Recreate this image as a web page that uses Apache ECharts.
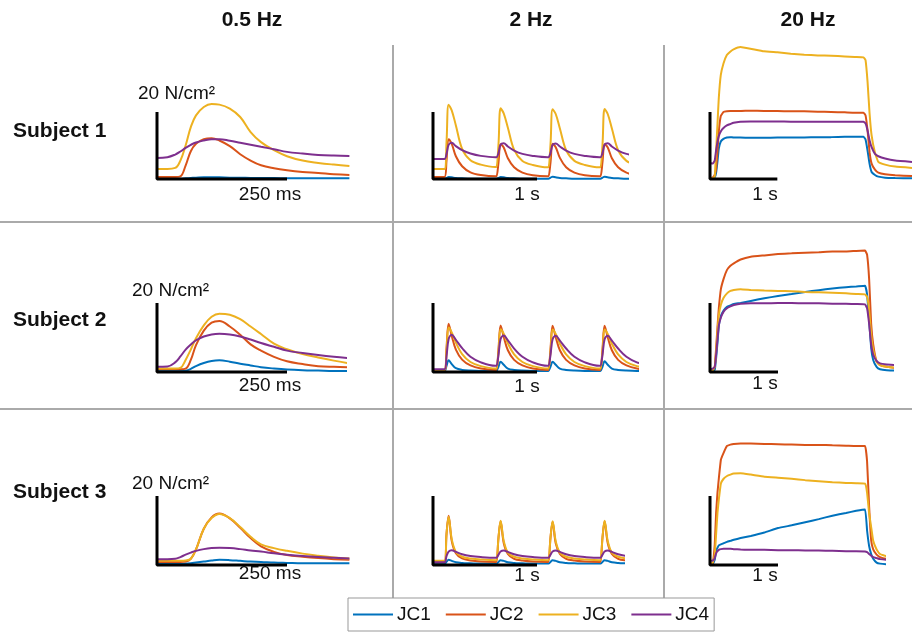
<!DOCTYPE html>
<html>
<head>
<meta charset="utf-8">
<script src="https://cdn.jsdelivr.net/npm/echarts@6/dist/echarts.min.js"></script>
<style>
  html, body { margin: 0; padding: 0; background: #fff; }
  #chart { width: 912px; height: 633px; }
</style>
</head>
<body>
<div id="chart"></div>
<script>
// series names / colours (MATLAB default order)
var NAMES = ["JC1", "JC2", "JC3", "JC4"];
var COLORS = ["#0072BD", "#D95319", "#EDB120", "#7E2F8E"];
var COL_TITLES = ["0.5 Hz", "2 Hz", "20 Hz"];
var ROW_TITLES = ["Subject 1", "Subject 2", "Subject 3"];
var BAR_LABELS = ["250 ms", "1 s", "1 s"];
var BAR_X = [250, 1, 1];   // horizontal scale bar length (ms, s, s)
var BAR_Y = 20;            // vertical scale bar, N/cm2

// time bases
var t05 = [0, 20, 35, 45, 55, 65, 75, 90, 105, 120, 140, 160, 180, 200, 225, 250, 280, 310, 340, 370]; // ms
var t2 = [0,
  0.11, 0.13, 0.15, 0.18, 0.22, 0.28, 0.36, 0.46, 0.60,
  0.61, 0.63, 0.65, 0.68, 0.72, 0.78, 0.86, 0.96, 1.10,
  1.11, 1.13, 1.15, 1.18, 1.22, 1.28, 1.36, 1.46, 1.60,
  1.61, 1.63, 1.65, 1.68, 1.72, 1.78, 1.86, 1.96, 2.10]; // s
var t20 = [0, 0.04, 0.07, 0.09, 0.11, 0.13, 0.16, 0.2, 0.25, 0.3,
  0.35, 0.45, 0.6, 0.8, 1.0, 1.2, 1.4, 1.6, 1.8, 2.0,
  2.15, 2.28, 2.31, 2.34, 2.37, 2.4, 2.45, 2.5, 2.6, 2.75, 3.0]; // s

// ---- Subject 1 ----
var s1_05_jc1 = [0.1, 0.1, 0.1, 0.1, 0.2, 0.3, 0.4, 0.5, 0.5, 0.5, 0.4, 0.4, 0.3, 0.3, 0.3, 0.2, 0.2, 0.2, 0.2, 0.2];
var s1_05_jc2 = [0.6, 0.6, 0.6, 0.8, 4.0, 8.3, 10.5, 11.9, 12.2, 11.5, 9.8, 7.4, 5.5, 4.1, 3.2, 2.6, 2.1, 1.8, 1.4, 1.2];
var s1_05_jc3 = [3.0, 3.0, 3.3, 5.5, 10.0, 15.5, 19.0, 21.5, 22.4, 22.2, 21.0, 18.5, 14.0, 11.0, 8.6, 6.8, 5.5, 4.8, 4.3, 3.9];
var s1_05_jc4 = [6.3, 6.5, 7.3, 8.2, 9.3, 10.2, 10.9, 11.5, 11.9, 11.9, 11.4, 10.8, 10.2, 9.6, 8.9, 8.1, 7.6, 7.2, 7.0, 6.9];

var s1_2_jc1 = [0.1,
  0.1, 0.3, 0.6, 0.5, 0.3, 0.2, 0.1, 0.1, 0.1,
  0.1, 0.3, 0.6, 0.5, 0.3, 0.2, 0.1, 0.1, 0.1,
  0.1, 0.4, 0.7, 0.5, 0.3, 0.2, 0.1, 0.1, 0.1,
  0.1, 0.4, 0.7, 0.5, 0.3, 0.2, 0.1, 0.1, 0.1];
var s1_2_jc2 = [0.6,
  0.6, 5.5, 11.9, 10.5, 6.8, 3.8, 2.0, 1.2, 0.8,
  0.8, 5.0, 10.4, 9.4, 6.2, 3.5, 1.9, 1.1, 0.8,
  0.8, 5.0, 10.5, 9.5, 6.3, 3.5, 1.9, 1.1, 0.8,
  0.8, 5.1, 10.4, 9.4, 6.2, 3.5, 1.9, 1.1, 0.8];
var s1_2_jc3 = [3.0,
  3.0, 11.0, 22.2, 20.5, 16.0, 9.0, 5.6, 4.3, 3.6,
  3.6, 10.5, 21.1, 19.6, 15.3, 8.7, 5.4, 4.2, 3.5,
  3.5, 10.4, 20.8, 19.4, 15.1, 8.6, 5.4, 4.2, 3.5,
  3.5, 10.4, 20.9, 19.4, 15.1, 8.6, 5.4, 4.2, 3.5];
var s1_2_jc4 = [6.0,
  6.0, 7.5, 10.2, 10.8, 9.8, 8.6, 7.6, 6.9, 6.5,
  6.5, 7.8, 10.3, 10.7, 9.7, 8.5, 7.5, 6.9, 6.5,
  6.5, 7.8, 10.2, 10.6, 9.7, 8.5, 7.5, 6.9, 6.5,
  6.5, 7.8, 10.3, 10.7, 9.7, 8.5, 7.5, 6.9, 6.5];

var s1_20_jc1 = [0.2, 0.2, 0.5, 1.8, 5, 9, 11.2, 12, 12.4, 12.5, 12.4, 12.4, 12.3, 12.3, 12.4, 12.4, 12.4, 12.5, 12.5, 12.6, 12.6, 12.6, 11.8, 8.5, 4.5, 2.1, 1.2, 0.7, 0.4, 0.3, 0.2];
var s1_20_jc2 = [0.3, 0.4, 1.2, 3.0, 8, 14, 18.8, 20, 20.2, 20.3, 20.3, 20.3, 20.4, 20.3, 20.3, 20.2, 20.2, 20.1, 20.0, 19.9, 19.8, 19.8, 19.0, 14.5, 8.0, 4.6, 2.8, 1.9, 1.4, 1.1, 0.9];
var s1_20_jc3 = [0.3, 0.3, 0.7, 8, 16, 24, 31, 34.5, 37, 38, 38.7, 39.4, 38.9, 38.1, 37.8, 37.4, 37.1, 36.9, 36.8, 36.6, 36.4, 36.3, 35.5, 29, 19.5, 13, 7.8, 5.1, 4.3, 3.7, 3.3];
var s1_20_jc4 = [4.8, 4.6, 5.5, 8.5, 11, 12.8, 14.2, 15.2, 16, 16.4, 16.8, 17.1, 17.2, 17.2, 17.2, 17.1, 17.1, 17.1, 17.1, 17.1, 17.1, 17.1, 16.6, 14.5, 11.5, 9.5, 7.5, 6.8, 6.1, 5.5, 5.1];

// ---- Subject 2 ----
var s2_05_jc1 = [0.3, 0.3, 0.3, 0.3, 0.4, 0.9, 1.7, 2.6, 3.2, 3.4, 3.0, 2.4, 1.9, 1.4, 1.0, 0.7, 0.5, 0.4, 0.3, 0.3];
var s2_05_jc2 = [0.8, 0.8, 0.8, 0.8, 1.0, 3.5, 7.8, 12.0, 14.3, 14.8, 13.2, 10.8, 8.0, 6.2, 4.4, 3.1, 2.3, 1.7, 1.5, 1.4];
var s2_05_jc3 = [1.0, 1.0, 1.0, 1.2, 3.5, 6.5, 9.8, 13.5, 16.0, 16.9, 16.6, 15.3, 13.2, 11.0, 8.2, 6.6, 5.2, 4.2, 3.3, 2.5];
var s2_05_jc4 = [1.5, 1.6, 2.8, 4.5, 6.5, 8.0, 9.2, 10.3, 10.9, 11.1, 10.9, 10.3, 9.4, 8.4, 7.3, 6.2, 5.5, 4.9, 4.4, 4.0];

var s2_2_jc1 = [0.3,
  0.3, 1.8, 3.4, 2.3, 1.1, 0.6, 0.4, 0.3, 0.3,
  0.3, 1.6, 3.0, 2.1, 1.0, 0.6, 0.4, 0.3, 0.3,
  0.3, 1.6, 3.0, 2.1, 1.0, 0.6, 0.4, 0.3, 0.3,
  0.3, 1.6, 3.1, 2.1, 1.0, 0.6, 0.4, 0.3, 0.3];
var s2_2_jc2 = [0.5,
  0.5, 7.0, 14.0, 10.5, 6.5, 3.6, 1.9, 1.0, 0.6,
  0.6, 6.8, 13.5, 10.2, 6.3, 3.5, 1.9, 1.0, 0.6,
  0.6, 6.8, 13.4, 10.1, 6.3, 3.5, 1.9, 1.0, 0.6,
  0.6, 6.8, 13.4, 10.1, 6.3, 3.5, 1.9, 1.0, 0.6];
var s2_2_jc3 = [0.6,
  0.6, 6.0, 12.9, 11.5, 8.5, 5.2, 2.9, 1.7, 1.0,
  1.0, 6.0, 12.4, 11.1, 8.3, 5.1, 2.9, 1.7, 1.0,
  1.0, 6.0, 12.3, 11.0, 8.2, 5.1, 2.9, 1.7, 1.0,
  1.0, 6.0, 12.3, 11.0, 8.2, 5.1, 2.9, 1.7, 1.0];
var s2_2_jc4 = [0.8,
  0.8, 4.5, 9.5, 10.8, 9.3, 6.9, 4.4, 2.8, 1.8,
  1.8, 5.0, 9.6, 10.6, 9.2, 6.8, 4.4, 2.8, 1.8,
  1.8, 5.0, 9.5, 10.5, 9.1, 6.8, 4.4, 2.8, 1.8,
  1.8, 5.0, 9.5, 10.5, 9.1, 6.8, 4.4, 2.8, 1.8];

var s2_20_jc1 = [0.3, 0.4, 0.6, 4, 8.5, 13.5, 16.2, 17.8, 18.9, 19.3, 19.7, 20.0, 20.6, 21.4, 22.0, 22.6, 23.2, 23.7, 24.2, 24.6, 24.8, 25, 22.5, 15, 7, 3.5, 1.5, 0.8, 0.5, 0.4, 0.4];
var s2_20_jc2 = [0.3, 0.5, 1.5, 7, 13, 18.5, 24, 27, 29.6, 30.8, 31.5, 32.6, 33.4, 33.8, 34.2, 34.4, 34.6, 34.7, 34.9, 34.9, 35.1, 35.2, 34, 27, 14, 8, 3, 2.0, 1.5, 1.2, 1.1];
var s2_20_jc3 = [0.3, 0.5, 1.5, 6, 11.5, 16.5, 19.5, 21.5, 22.8, 23.5, 23.8, 24, 23.8, 23.6, 23.5, 23.4, 23.2, 23.1, 23, 22.8, 22.6, 22.5, 21.8, 18, 11, 6.5, 3, 2.0, 1.5, 1.2, 1.1];
var s2_20_jc4 = [0.8, 1.0, 1.5, 5, 9.5, 13.5, 15.8, 17.5, 18.5, 19, 19.4, 19.8, 19.9, 19.9, 20, 20, 19.9, 19.9, 19.8, 19.8, 19.7, 19.6, 18.5, 14, 8, 5, 3.2, 2.5, 2.2, 2.0, 2.0];

// ---- Subject 3 ----
var s3_05_jc1 = [0.3, 0.3, 0.3, 0.3, 0.4, 0.5, 0.7, 1.0, 1.3, 1.5, 1.4, 1.2, 1.0, 0.9, 0.7, 0.6, 0.5, 0.5, 0.5, 0.5];
var s3_05_jc2 = [0.9, 0.9, 0.9, 0.9, 1.0, 1.8, 4.5, 10.5, 13.8, 14.9, 13.5, 10.8, 7.8, 5.4, 3.8, 2.9, 2.4, 2.0, 1.7, 1.5];
var s3_05_jc3 = [1.2, 1.2, 1.2, 1.2, 1.3, 1.8, 4.5, 10.5, 13.6, 14.8, 13.6, 11.0, 8.2, 6.0, 4.9, 4.1, 3.3, 2.7, 2.2, 1.9];
var s3_05_jc4 = [1.7, 1.7, 1.8, 2.3, 3.0, 3.6, 4.1, 4.6, 4.9, 5.0, 4.9, 4.6, 4.2, 3.9, 3.4, 3.0, 2.6, 2.3, 2.1, 1.9];

var s3_2_jc1 = [0.3,
  0.3, 0.9, 1.5, 1.2, 0.8, 0.6, 0.5, 0.4, 0.4,
  0.4, 0.9, 1.4, 1.2, 0.8, 0.6, 0.5, 0.4, 0.4,
  0.4, 0.9, 1.4, 1.2, 0.8, 0.6, 0.5, 0.4, 0.4,
  0.4, 0.9, 1.4, 1.2, 0.8, 0.6, 0.5, 0.4, 0.4];
var s3_2_jc2 = [0.8,
  0.8, 9.0, 14.3, 7.0, 3.4, 1.9, 1.3, 1.0, 0.9,
  0.9, 8.0, 12.6, 6.4, 3.2, 1.8, 1.3, 1.0, 0.9,
  0.9, 8.0, 12.5, 6.3, 3.2, 1.8, 1.3, 1.0, 0.9,
  0.9, 8.0, 12.6, 6.4, 3.2, 1.8, 1.3, 1.0, 0.9];
var s3_2_jc3 = [1.2,
  1.2, 9.0, 14.0, 7.5, 3.8, 2.4, 1.9, 1.6, 1.4,
  1.4, 8.0, 12.8, 7.0, 3.6, 2.4, 1.9, 1.6, 1.4,
  1.4, 8.0, 12.7, 6.9, 3.6, 2.4, 1.9, 1.6, 1.4,
  1.4, 8.0, 12.8, 7.0, 3.6, 2.4, 1.9, 1.6, 1.4];
var s3_2_jc4 = [0.8,
  0.8, 2.6, 3.9, 4.3, 3.8, 3.1, 2.6, 2.3, 2.1,
  2.1, 3.0, 3.9, 4.2, 3.8, 3.1, 2.6, 2.3, 2.1,
  2.1, 3.0, 3.9, 4.2, 3.8, 3.1, 2.6, 2.3, 2.1,
  2.1, 3.0, 3.9, 4.2, 3.8, 3.1, 2.6, 2.3, 2.1];

var s3_20_jc1 = [0.2, 0.3, 1.5, 4.2, 5.0, 5.7, 6.0, 6.3, 6.7, 7.0, 7.3, 7.8, 8.4, 9.4, 10.7, 11.5, 12.4, 13.3, 14.3, 15.1, 15.7, 16.1, 10, 5.5, 3.2, 1.8, 0.7, 0.4, 0.2, 0.1, 0.1];
var s3_20_jc2 = [0.2, 0.5, 6, 15.1, 21, 25.1, 30.5, 32.5, 34.5, 34.9, 35.1, 35.2, 35.2, 35.1, 35.0, 34.9, 34.8, 34.8, 34.7, 34.6, 34.5, 34.5, 30, 17, 7.2, 4.5, 3.0, 2.3, 1.8, 1.7, 1.6];
var s3_20_jc3 = [0.2, 0.8, 3, 9, 15.1, 19, 23.6, 25, 25.8, 26.2, 26.5, 26.6, 26.2, 25.6, 25.3, 25, 24.6, 24.3, 24.0, 23.8, 23.7, 23.6, 21, 15, 11, 7, 4.5, 3.2, 2.5, 2.2, 2.1];
var s3_20_jc4 = [1.2, 1.3, 2.0, 3.4, 4.0, 4.4, 4.6, 4.7, 4.7, 4.7, 4.6, 4.5, 4.4, 4.4, 4.3, 4.3, 4.2, 4.2, 4.1, 4.0, 4.0, 3.9, 3.7, 3.2, 2.7, 2.3, 2.0, 1.7, 1.5, 1.4, 1.4];

// panels: row, col, time base, the four traces, visible time span
var panels = [
  { row: 0, col: 0, t: t05, ys: [s1_05_jc1, s1_05_jc2, s1_05_jc3, s1_05_jc4], xMax: 368 },
  { row: 0, col: 1, t: t2,  ys: [s1_2_jc1, s1_2_jc2, s1_2_jc3, s1_2_jc4], xMax: 1.87 },
  { row: 0, col: 2, t: t20, ys: [s1_20_jc1, s1_20_jc2, s1_20_jc3, s1_20_jc4], xMax: 3.0 },
  { row: 1, col: 0, t: t05, ys: [s2_05_jc1, s2_05_jc2, s2_05_jc3, s2_05_jc4], xMax: 362 },
  { row: 1, col: 1, t: t2,  ys: [s2_2_jc1, s2_2_jc2, s2_2_jc3, s2_2_jc4], xMax: 1.97 },
  { row: 1, col: 2, t: t20, ys: [s2_20_jc1, s2_20_jc2, s2_20_jc3, s2_20_jc4], xMax: 2.69 },
  { row: 2, col: 0, t: t05, ys: [s3_05_jc1, s3_05_jc2, s3_05_jc3, s3_05_jc4], xMax: 369 },
  { row: 2, col: 1, t: t2,  ys: [s3_2_jc1, s3_2_jc2, s3_2_jc3, s3_2_jc4], xMax: 1.83 },
  { row: 2, col: 2, t: t20, ys: [s3_20_jc1, s3_20_jc2, s3_20_jc3, s3_20_jc4], xMax: 2.57 }
];

// layout (pixels)
var COL_X0 = [157, 433, 710];       // x of scale-bar origin
var COL_SX = [0.52, 104, 68];       // px per x unit
var ROW_Y0 = [179, 372, 565];       // y of value 0
var ROW_SY = [3.35, 3.45, 3.45];    // px per N/cm2
var SMOOTH = [0.4, 0.35, 0.1];
var YMIN = -2, YMAX = 42;
var FONT = '"Liberation Sans", Arial, sans-serif';

var grids = [], xAxes = [], yAxes = [], series = [];
panels.forEach(function (p, i) {
  var x0 = COL_X0[p.col], sx = COL_SX[p.col];
  var y0 = ROW_Y0[p.row], sy = ROW_SY[p.row];
  grids.push({ left: x0, top: y0 - YMAX * sy, width: p.xMax * sx, height: (YMAX - YMIN) * sy });
  xAxes.push({ gridIndex: i, type: "value", min: 0, max: p.xMax, show: false });
  yAxes.push({ gridIndex: i, type: "value", min: YMIN, max: YMAX, show: false });
  p.ys.forEach(function (vals, k) {
    series.push({
      name: NAMES[k], type: "line", xAxisIndex: i, yAxisIndex: i,
      data: p.t.map(function (t, j) { return [t, vals[j]]; }),
      symbol: "none", smooth: SMOOTH[p.col],
      lineStyle: { width: 2, color: COLORS[k] }, itemStyle: { color: COLORS[k] }
    });
  });
  // L-shaped scale bar: 20 N/cm2 up, 250 ms / 1 s across
  series.push({
    type: "line", xAxisIndex: i, yAxisIndex: i, silent: true, clip: false, z: 5,
    data: [[0, BAR_Y], [0, 0], [BAR_X[p.col], 0]],
    symbol: "none", lineStyle: { width: 3, color: "#000" }
  });
});

function txt(text, x, y, size, weight, align) {
  return {
    type: "text", silent: true,
    style: { text: text, x: x, y: y, fill: "#111", font: weight + " " + size + "px " + FONT,
             align: align, verticalAlign: "middle" }
  };
}
function sep(x1, y1, x2, y2) {
  return { type: "line", silent: true, shape: { x1: x1, y1: y1, x2: x2, y2: y2 },
           style: { stroke: "#aaaaaa", lineWidth: 2 } };
}

var graphics = [
  sep(393, 45, 393, 598), sep(664, 45, 664, 598),
  sep(0, 222, 912, 222), sep(0, 409, 912, 409)
];
var TITLE_X = [252, 531, 808];
COL_TITLES.forEach(function (s, c) { graphics.push(txt(s, TITLE_X[c], 20, 21, "bold", "center")); });
var ROW_LABEL_Y = [131, 320, 492];
ROW_TITLES.forEach(function (s, r) { graphics.push(txt(s, 13, ROW_LABEL_Y[r], 21, "bold", "left")); });
var FORCE_LABEL = [[138, 94], [132, 291], [132, 484]];
FORCE_LABEL.forEach(function (p) { graphics.push(txt("20 N/cm²", p[0], p[1], 19, "normal", "left")); });
var TIME_LABEL_X = [270, 527, 765];
var TIME_LABEL_Y = [[195, 195, 195], [386, 387, 384], [574, 576, 576]];
for (var r = 0; r < 3; r++) {
  for (var c = 0; c < 3; c++) {
    graphics.push(txt(BAR_LABELS[c], TIME_LABEL_X[c], TIME_LABEL_Y[r][c], 19, "normal", "center"));
  }
}

var chart = echarts.init(document.getElementById("chart"));
chart.setOption({
  animation: false,
  grid: grids,
  xAxis: xAxes,
  yAxis: yAxes,
  series: series,
  graphic: graphics,
  legend: {
    data: NAMES, left: 348, top: 598,
    icon: "rect", itemWidth: 40, itemHeight: 2, itemGap: 15,
    padding: [7, 5, 7, 5],
    borderColor: "#999", borderWidth: 1,
    textStyle: { fontSize: 19, color: "#111", fontFamily: FONT, padding: [0, 0, 0, -1] }
  }
});
</script>
</body>
</html>
